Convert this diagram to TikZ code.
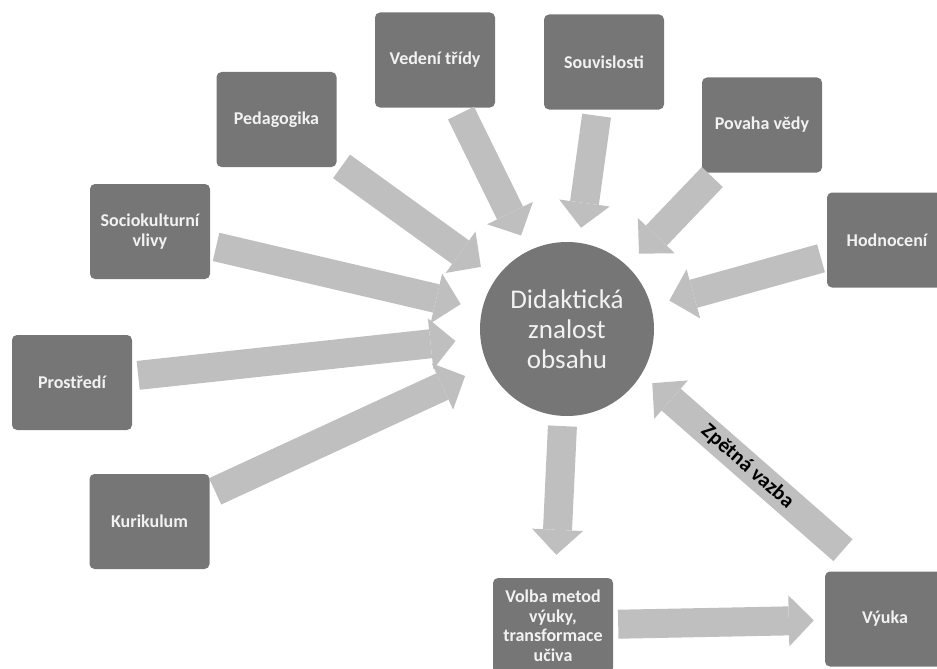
\documentclass[tikz,border=0pt]{standalone}
\usepackage{fontspec}
\setmainfont{Carlito}
\usepackage{xcolor}
\definecolor{boxgray}{RGB}{118,118,118}
\definecolor{flowgray}{RGB}{191,191,191}
\definecolor{labelwhite}{RGB}{242,242,242}
\usepackage{tikz}
\usetikzlibrary{arrows.meta}

\tikzset{
  factor/.style={rectangle, rounded corners=5pt, fill=boxgray,
    minimum width=120pt, minimum height=95pt, inner sep=2pt,
    align=center, text=labelwhite,
    font=\bfseries\fontsize{18}{19.5}\selectfont},
  flow/.style={color=flowgray, line width=29pt,
    -{Triangle[length=25pt,width=51pt,line width=0pt,color=flowgray]},
    shorten <=6pt, shorten >=18pt}
}

\begin{document}
\begin{tikzpicture}[x=1pt,y=-1pt]
  \clip (0,0) rectangle (937,669);
  \node[circle, fill=boxgray, minimum size=174pt, inner sep=0pt,
    align=center, text=labelwhite, font=\fontsize{27}{30}\selectfont]
    (dzo) at (567,329) {Didaktická\\znalost\\obsahu};
  \node[factor] (ved) at (435,60) {Vedení třídy};
  \node[factor] (sou) at (604,62) {Souvislosti};
  \node[factor] (pov) at (762,125) {Povaha vědy};
  \node[factor] (hod) at (887,240) {Hodnocení};
  \node[factor] (ped) at (276.5,119.5) {Pedagogika};
  \node[factor] (soc) at (150,231.5) {Sociokulturní\\vlivy};
  \node[factor] (pro) at (72,382.5) {Prostředí};
  \node[factor] (kur) at (149.5,521.5) {Kurikulum};
  \node[factor] (vol) at (553,625.5) {Volba metod\\výuky,\\transformace\\učiva};
  \node[factor] (vyu) at (885,619) {Výuka};
  % inputs into the centre
  \path[flow]
    (ped) edge[shorten >=19pt] (dzo)
    (ved) edge[shorten >=17pt] (dzo)
    (sou) edge[shorten >=15pt] (dzo)
    (pov) edge[shorten >=17pt] (dzo)
    (hod) edge[shorten >=19pt] (dzo)
    (soc) edge[shorten >=22pt] (dzo)
    (pro) edge[shorten >=25pt] (dzo)
    (kur) edge[shorten >=25pt] (dzo)
    ;
  % cycle below the centre
  \path[flow]
    (dzo) edge[shorten <=10pt, shorten >=23pt] (vol)
    (vol) edge[shorten <=5pt, shorten >=11pt] (vyu)
    ([xshift=-18pt]vyu.north) edge[shorten <=32pt, shorten >=14pt]
      node[pos=0.53, sloped, text=black,
        font=\bfseries\fontsize{21}{23}\selectfont] {Zpětná vazba} (dzo.-31)
    ;
\end{tikzpicture}
\end{document}
